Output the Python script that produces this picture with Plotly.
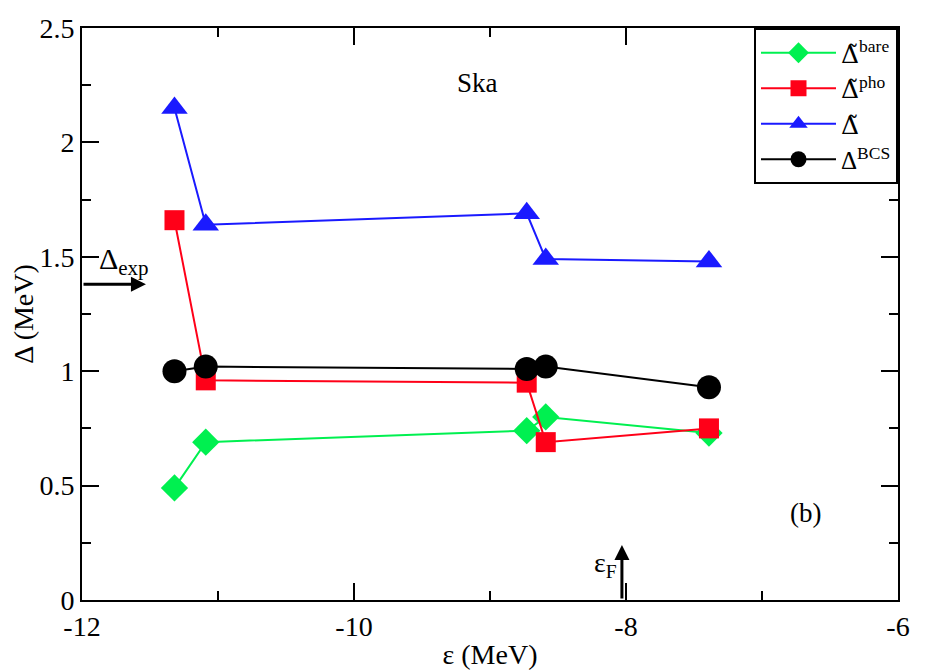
import plotly.graph_objects as go

# single-particle energies (MeV)
eps = [-11.32, -11.09, -8.73, -8.59, -7.39]

# pairing gaps (MeV)
gap_bare = [0.49, 0.69, 0.74, 0.80, 0.73]
gap_pho = [1.66, 0.96, 0.95, 0.69, 0.75]
gap_tot = [2.15, 1.64, 1.69, 1.49, 1.48]
gap_bcs = [1.00, 1.02, 1.01, 1.02, 0.93]

gap_exp = 1.38
eps_fermi = -8.03

x_ticks = [-12, -10, -8, -6]
x_ticktext = ["-12", "-10", "-8", "-6"]
y_ticks = [0, 0.5, 1, 1.5, 2, 2.5]
y_ticktext = ["0", "0.5", "1", "1.5", "2", "2.5"]

FONT = "Liberation Serif, Times New Roman, serif"
TILDE_D = '<span style="font-family:DejaVu Serif">Δ̃</span>'

fig = go.Figure()

series = [
    (gap_bare, TILDE_D + "<sup>bare</sup>", "#00f050", "diamond", 21),
    (gap_pho, TILDE_D + "<sup>pho</sup>", "#ff0018", "square", 20),
    (gap_tot, TILDE_D, "#1a1aff", "triangle-up", 23),
    (gap_bcs, "Δ<sup>BCS</sup>", "black", "circle", 24),
]
for y, name, col, sym, sz in series:
    fig.add_trace(go.Scatter(
        x=eps, y=y, name=name, mode="lines+markers",
        line=dict(color=col, width=2),
        marker=dict(symbol=sym, size=sz, color=col),
    ))

# Δ_exp arrow on the left
fig.add_annotation(x=-11.53, y=gap_exp, ax=-12, ay=gap_exp, xref="x", yref="y",
                   axref="x", ayref="y", showarrow=True, arrowhead=2,
                   arrowsize=1, arrowwidth=3, arrowcolor="black", text="")
fig.add_annotation(x=-11.89, y=gap_exp + 0.01, xref="x", yref="y", showarrow=False,
                   text="Δ<sub>exp</sub>", font=dict(family=FONT, size=30),
                   xanchor="left", yanchor="bottom")

# Fermi energy arrow
fig.add_annotation(x=eps_fermi, y=0.24, ax=eps_fermi, ay=0, xref="x", yref="y",
                   axref="x", ayref="y", showarrow=True, arrowhead=2,
                   arrowsize=1, arrowwidth=3, arrowcolor="black", text="")
fig.add_annotation(x=eps_fermi - 0.02, y=0.07, xref="x", yref="y", showarrow=False,
                   text="ε<sub>F</sub>", font=dict(family=FONT, size=28),
                   xanchor="right", yanchor="bottom")

fig.add_annotation(x=-9.09, y=2.26, xref="x", yref="y", showarrow=False,
                   text="Ska", font=dict(family=FONT, size=27))
fig.add_annotation(x=-6.68, y=0.38, xref="x", yref="y", showarrow=False,
                   text="(b)", font=dict(family=FONT, size=27))

axis_common = dict(
    showline=True, linecolor="black", linewidth=2, mirror="ticks",
    ticks="inside", ticklen=17, tickwidth=1.5, tickcolor="black",
    showgrid=False, zeroline=False, automargin=False,
    tickfont=dict(family=FONT, size=28, color="black"),
)

fig.update_layout(
    width=927, height=672,
    margin=dict(l=74, r=37, t=20, b=80),
    plot_bgcolor="white", paper_bgcolor="white",
    font=dict(family=FONT, color="black"),
    xaxis=dict(range=[-12, -6], tickvals=x_ticks, ticktext=x_ticktext,
               minor=dict(dtick=1, ticks="inside", ticklen=9, tickcolor="black"),
               title=dict(text="ε (MeV)", font=dict(family=FONT, size=28), standoff=4),
               **axis_common),
    yaxis=dict(range=[0, 2.5], tickvals=y_ticks, ticktext=y_ticktext,
               minor=dict(dtick=0.25, ticks="inside", ticklen=9, tickcolor="black"),
               title=dict(text="Δ (MeV)", font=dict(family=FONT, size=28), standoff=4),
               **axis_common),
    legend=dict(x=1, y=1, xanchor="right", yanchor="top",
                bordercolor="black", borderwidth=2, bgcolor="white",
                font=dict(family=FONT, size=25), tracegroupgap=0,
                itemwidth=75),
    showlegend=True,
)

fig.write_html("out.html")
